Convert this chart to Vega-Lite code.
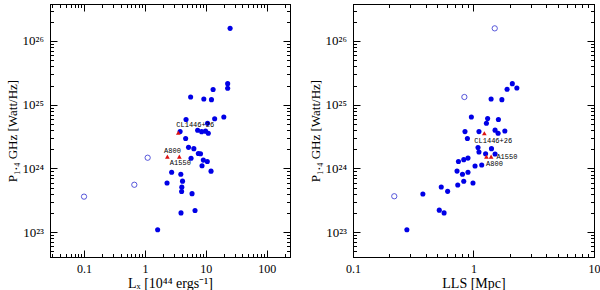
{
  "$schema": "https://vega.github.io/schema/vega-lite/v6.json",
  "padding": {"left": 5, "top": 3, "right": 0, "bottom": 0},
  "autosize": {"type": "pad"},
  "spacing": 17,
  "background": "white",
  "config": {
    "view": {"stroke": "black", "strokeWidth": 1},
    "axis": {
      "grid": false,
      "domainColor": "black",
      "tickColor": "black",
      "labelColor": "black",
      "titleColor": "black",
      "labelFont": "Liberation Serif",
      "labelFontSize": 12,
      "titleFont": "Liberation Serif",
      "titleFontSize": 14,
      "titleFontWeight": "normal",
      "labelFlush": false,
      "labelOverlap": false
    }
  },
  "datasets": {
    "lx": [
      {"x": 25.1, "p": 1.58e26, "t": "f"},
      {"x": 22.9, "p": 2.14e25, "t": "f"},
      {"x": 22.9, "p": 1.81e25, "t": "f"},
      {"x": 13.2, "p": 1.73e25, "t": "f"},
      {"x": 5.64, "p": 1.32e25, "t": "f"},
      {"x": 9.29, "p": 1.23e25, "t": "f"},
      {"x": 12.4, "p": 1.2e25, "t": "f"},
      {"x": 4.74, "p": 5.86e24, "t": "f"},
      {"x": 14.0, "p": 6.01e24, "t": "f"},
      {"x": 19.8, "p": 6.41e24, "t": "f"},
      {"x": 10.7, "p": 5.11e24, "t": "f"},
      {"x": 3.79, "p": 3.8e24, "t": "f"},
      {"x": 7.35, "p": 3.96e24, "t": "f"},
      {"x": 8.55, "p": 3.77e24, "t": "f"},
      {"x": 9.91, "p": 3.84e24, "t": "f"},
      {"x": 11.0, "p": 3.56e24, "t": "f"},
      {"x": 4.67, "p": 2.95e24, "t": "f"},
      {"x": 5.21, "p": 2.14e24, "t": "f"},
      {"x": 6.37, "p": 2.04e24, "t": "f"},
      {"x": 7.55, "p": 1.71e24, "t": "f"},
      {"x": 8.2, "p": 1.7e24, "t": "f"},
      {"x": 5.73, "p": 1.44e24, "t": "f"},
      {"x": 9.12, "p": 1.35e24, "t": "f"},
      {"x": 10.6, "p": 1.28e24, "t": "f"},
      {"x": 8.68, "p": 1.1e24, "t": "f"},
      {"x": 12.2, "p": 9.04e23, "t": "f"},
      {"x": 2.75, "p": 8.69e23, "t": "f"},
      {"x": 3.89, "p": 8.08e23, "t": "f"},
      {"x": 2.31, "p": 5.9e23, "t": "f"},
      {"x": 4.15, "p": 6.3e23, "t": "f"},
      {"x": 4.04, "p": 5.07e23, "t": "f"},
      {"x": 4.01, "p": 4.34e23, "t": "f"},
      {"x": 5.95, "p": 4.01e23, "t": "f"},
      {"x": 3.92, "p": 2.0e23, "t": "f"},
      {"x": 6.66, "p": 2.18e23, "t": "f"},
      {"x": 1.62, "p": 1.09e23, "t": "f"},
      {"x": 0.1, "p": 3.6e23, "t": "o"},
      {"x": 0.67, "p": 5.53e23, "t": "o"},
      {"x": 1.11, "p": 1.47e24, "t": "o"},
      {"x": 3.54, "p": 3.62e24, "t": "tri", "name": "CL1446+26"},
      {"x": 2.34, "p": 1.53e24, "t": "tri", "name": "A800"},
      {"x": 3.68, "p": 1.53e24, "t": "tri", "name": "A1550"}
    ],
    "lls": [
      {"x": 2.1, "p": 2.14e25, "t": "f"},
      {"x": 1.9, "p": 1.75e25, "t": "f"},
      {"x": 2.29, "p": 1.83e25, "t": "f"},
      {"x": 1.4, "p": 1.23e25, "t": "f"},
      {"x": 1.72, "p": 1.2e25, "t": "f"},
      {"x": 0.96, "p": 6.41e24, "t": "f"},
      {"x": 1.31, "p": 6.05e24, "t": "f"},
      {"x": 1.61, "p": 5.86e24, "t": "f"},
      {"x": 1.28, "p": 5.11e24, "t": "f"},
      {"x": 0.85, "p": 3.78e24, "t": "f"},
      {"x": 1.11, "p": 3.78e24, "t": "f"},
      {"x": 1.51, "p": 3.98e24, "t": "f"},
      {"x": 1.82, "p": 3.87e24, "t": "f"},
      {"x": 1.6, "p": 3.57e24, "t": "f"},
      {"x": 0.89, "p": 2.94e24, "t": "f"},
      {"x": 1.09, "p": 2.13e24, "t": "f"},
      {"x": 1.41, "p": 2.04e24, "t": "f"},
      {"x": 1.11, "p": 1.81e24, "t": "f"},
      {"x": 1.26, "p": 1.7e24, "t": "f"},
      {"x": 1.51, "p": 1.68e24, "t": "f"},
      {"x": 0.9, "p": 1.45e24, "t": "f"},
      {"x": 0.83, "p": 1.37e24, "t": "f"},
      {"x": 0.75, "p": 1.28e24, "t": "f"},
      {"x": 1.03, "p": 1.09e24, "t": "f"},
      {"x": 1.17, "p": 1.13e24, "t": "f"},
      {"x": 0.73, "p": 9.07e23, "t": "f"},
      {"x": 0.81, "p": 8.08e23, "t": "f"},
      {"x": 0.9, "p": 8.69e23, "t": "f"},
      {"x": 0.83, "p": 6.27e23, "t": "f"},
      {"x": 0.74, "p": 5.48e23, "t": "f"},
      {"x": 0.99, "p": 5.88e23, "t": "f"},
      {"x": 0.54, "p": 5.11e23, "t": "f"},
      {"x": 0.61, "p": 4.36e23, "t": "f"},
      {"x": 0.38, "p": 3.96e23, "t": "f"},
      {"x": 0.52, "p": 2.21e23, "t": "f"},
      {"x": 0.57, "p": 2.0e23, "t": "f"},
      {"x": 0.28, "p": 1.09e23, "t": "f"},
      {"x": 1.5, "p": 1.58e26, "t": "o"},
      {"x": 0.84, "p": 1.32e25, "t": "o"},
      {"x": 0.22, "p": 3.65e23, "t": "o"},
      {"x": 1.23, "p": 3.56e24, "t": "tri", "name": "CL1446+26"},
      {"x": 1.28, "p": 1.53e24, "t": "tri", "name": "A800"},
      {"x": 1.4, "p": 1.53e24, "t": "tri", "name": "A1550"}
    ]
  },
  "hconcat": [
    {
      "width": 240,
      "height": 253,
      "data": {"name": "lx"},
      "resolve": {"axis": {"x": "independent", "y": "independent"}},
      "layer": [
        {
          "transform": [{"filter": "datum.t == 'f'"}],
          "mark": {"type": "circle", "size": 26, "color": "#0000e6", "opacity": 1},
          "encoding": {
            "x": {"field": "x", "type": "quantitative", "scale": {"type": "log", "domain": [0.0276, 242], "nice": false},
              "axis": {"orient": "bottom", "values": [0.1, 1, 10, 100], "tickSize": -7, "labelPadding": 13, "labelExpr": "datum.value < 0.5 ? '0.1' : datum.value < 5 ? '1' : datum.value < 50 ? '10' : '100'", "title": "Lₓ [10⁴⁴ ergs⁻¹]", "titlePadding": 2}},
            "y": {"field": "p", "type": "quantitative", "scale": {"type": "log", "domain": [4.06e22, 3.81e26], "nice": false},
              "axis": {"orient": "left", "values": [1e23, 1e24, 1e25, 1e26], "tickSize": -7, "labelPadding": 13.5, "labelFontSize": 13, "labelExpr": "datum.value > 5e25 ? '10²⁶' : datum.value > 5e24 ? '10²⁵' : datum.value > 5e23 ? '10²⁴' : '10²³'", "title": "P₁.₄ GHz [Watt/Hz]", "titlePadding": 3, "titleFontSize": 13}}
          }
        },
        {
          "transform": [{"filter": "datum.t == 'o'"}],
          "mark": {"type": "point", "shape": "circle", "filled": false, "size": 28, "stroke": "#3030d0", "strokeWidth": 0.8, "opacity": 1},
          "encoding": {
            "x": {"field": "x", "type": "quantitative", "scale": {"type": "log", "domain": [0.0276, 242], "nice": false},
              "axis": {"orient": "bottom", "values": [0.03, 0.04, 0.05, 0.06, 0.07, 0.08, 0.09, 0.2, 0.3, 0.4, 0.5, 0.6, 0.7, 0.8, 0.9, 2, 3, 4, 5, 6, 7, 8, 9, 20, 30, 40, 50, 60, 70, 80, 90, 200], "tickSize": -3.5, "labels": false, "title": null}},
            "y": {"field": "p", "type": "quantitative", "scale": {"type": "log", "domain": [4.06e22, 3.81e26], "nice": false},
              "axis": {"orient": "left", "values": [5e22, 6e22, 7e22, 8e22, 9e22, 2e23, 3e23, 4e23, 5e23, 6e23, 7e23, 8e23, 9e23, 2e24, 3e24, 4e24, 5e24, 6e24, 7e24, 8e24, 9e24, 2e25, 3e25, 4e25, 5e25, 6e25, 7e25, 8e25, 9e25, 2e26, 3e26], "tickSize": -3.5, "labels": false, "title": null}}
          }
        },
        {
          "transform": [{"filter": "datum.t == 'tri'"}],
          "mark": {"type": "point", "shape": "triangle-up", "filled": true, "size": 22, "color": "#dd1111", "opacity": 1},
          "encoding": {
            "x": {"field": "x", "type": "quantitative", "scale": {"type": "log", "domain": [0.0276, 242], "nice": false},
              "axis": {"orient": "top", "values": [0.1, 1, 10, 100], "tickSize": -7, "labels": false, "title": null}},
            "y": {"field": "p", "type": "quantitative", "scale": {"type": "log", "domain": [4.06e22, 3.81e26], "nice": false},
              "axis": {"orient": "right", "values": [1e23, 1e24, 1e25, 1e26], "tickSize": -7, "labels": false, "title": null}}
          }
        },
        {
          "transform": [{"filter": "datum.name == 'CL1446+26'"}],
          "mark": {"type": "text", "font": "Liberation Mono", "fontSize": 7, "align": "left", "baseline": "middle", "dx": -2, "dy": -7.5, "color": "black"},
          "encoding": {
            "text": {"field": "name"},
            "x": {"field": "x", "type": "quantitative", "scale": {"type": "log", "domain": [0.0276, 242], "nice": false},
              "axis": {"orient": "top", "values": [0.03, 0.04, 0.05, 0.06, 0.07, 0.08, 0.09, 0.2, 0.3, 0.4, 0.5, 0.6, 0.7, 0.8, 0.9, 2, 3, 4, 5, 6, 7, 8, 9, 20, 30, 40, 50, 60, 70, 80, 90, 200], "tickSize": -3.5, "labels": false, "title": null}},
            "y": {"field": "p", "type": "quantitative", "scale": {"type": "log", "domain": [4.06e22, 3.81e26], "nice": false},
              "axis": {"orient": "right", "values": [5e22, 6e22, 7e22, 8e22, 9e22, 2e23, 3e23, 4e23, 5e23, 6e23, 7e23, 8e23, 9e23, 2e24, 3e24, 4e24, 5e24, 6e24, 7e24, 8e24, 9e24, 2e25, 3e25, 4e25, 5e25, 6e25, 7e25, 8e25, 9e25, 2e26, 3e26], "tickSize": -3.5, "labels": false, "title": null}}
          }
        },
        {
          "transform": [{"filter": "datum.name == 'A800'"}],
          "mark": {"type": "text", "font": "Liberation Mono", "fontSize": 7, "align": "left", "baseline": "middle", "dx": -3.3, "dy": -6, "color": "black"},
          "encoding": {
            "text": {"field": "name"},
            "x": {"field": "x", "type": "quantitative", "scale": {"type": "log", "domain": [0.0276, 242], "nice": false}, "axis": null},
            "y": {"field": "p", "type": "quantitative", "scale": {"type": "log", "domain": [4.06e22, 3.81e26], "nice": false}, "axis": null}
          }
        },
        {
          "transform": [{"filter": "datum.name == 'A1550'"}],
          "mark": {"type": "text", "font": "Liberation Mono", "fontSize": 7, "align": "center", "baseline": "middle", "dx": 1, "dy": 6.6, "color": "black"},
          "encoding": {
            "text": {"field": "name"},
            "x": {"field": "x", "type": "quantitative", "scale": {"type": "log", "domain": [0.0276, 242], "nice": false}, "axis": null},
            "y": {"field": "p", "type": "quantitative", "scale": {"type": "log", "domain": [4.06e22, 3.81e26], "nice": false}, "axis": null}
          }
        }
      ]
    },
    {
      "width": 241,
      "height": 253,
      "data": {"name": "lls"},
      "resolve": {"axis": {"x": "independent", "y": "independent"}},
      "layer": [
        {
          "transform": [{"filter": "datum.t == 'f'"}],
          "mark": {"type": "circle", "size": 26, "color": "#0000e6", "opacity": 1},
          "encoding": {
            "x": {"field": "x", "type": "quantitative", "scale": {"type": "log", "domain": [0.1, 10], "nice": false},
              "axis": {"orient": "bottom", "values": [0.1, 1, 10], "tickSize": -7, "labelPadding": 13, "labelExpr": "datum.value < 0.5 ? '0.1' : datum.value < 5 ? '1' : '10'", "title": "LLS [Mpc]", "titlePadding": 2}},
            "y": {"field": "p", "type": "quantitative", "scale": {"type": "log", "domain": [4.06e22, 3.81e26], "nice": false},
              "axis": {"orient": "left", "values": [1e23, 1e24, 1e25, 1e26], "tickSize": -7, "labelPadding": 13.5, "labelFontSize": 13, "labelExpr": "datum.value > 5e25 ? '10²⁶' : datum.value > 5e24 ? '10²⁵' : datum.value > 5e23 ? '10²⁴' : '10²³'", "title": "P₁.₄ GHz [Watt/Hz]", "titlePadding": 3, "titleFontSize": 13}}
          }
        },
        {
          "transform": [{"filter": "datum.t == 'o'"}],
          "mark": {"type": "point", "shape": "circle", "filled": false, "size": 28, "stroke": "#3030d0", "strokeWidth": 0.8, "opacity": 1},
          "encoding": {
            "x": {"field": "x", "type": "quantitative", "scale": {"type": "log", "domain": [0.1, 10], "nice": false},
              "axis": {"orient": "bottom", "values": [0.2, 0.3, 0.4, 0.5, 0.6, 0.7, 0.8, 0.9, 2, 3, 4, 5, 6, 7, 8, 9], "tickSize": -3.5, "labels": false, "title": null}},
            "y": {"field": "p", "type": "quantitative", "scale": {"type": "log", "domain": [4.06e22, 3.81e26], "nice": false},
              "axis": {"orient": "left", "values": [5e22, 6e22, 7e22, 8e22, 9e22, 2e23, 3e23, 4e23, 5e23, 6e23, 7e23, 8e23, 9e23, 2e24, 3e24, 4e24, 5e24, 6e24, 7e24, 8e24, 9e24, 2e25, 3e25, 4e25, 5e25, 6e25, 7e25, 8e25, 9e25, 2e26, 3e26], "tickSize": -3.5, "labels": false, "title": null}}
          }
        },
        {
          "transform": [{"filter": "datum.t == 'tri'"}],
          "mark": {"type": "point", "shape": "triangle-up", "filled": true, "size": 22, "color": "#dd1111", "opacity": 1},
          "encoding": {
            "x": {"field": "x", "type": "quantitative", "scale": {"type": "log", "domain": [0.1, 10], "nice": false},
              "axis": {"orient": "top", "values": [0.1, 1, 10], "tickSize": -7, "labels": false, "title": null}},
            "y": {"field": "p", "type": "quantitative", "scale": {"type": "log", "domain": [4.06e22, 3.81e26], "nice": false},
              "axis": {"orient": "right", "values": [1e23, 1e24, 1e25, 1e26], "tickSize": -7, "labels": false, "title": null}}
          }
        },
        {
          "transform": [{"filter": "datum.name == 'CL1446+26'"}],
          "mark": {"type": "text", "font": "Liberation Mono", "fontSize": 7, "align": "left", "baseline": "middle", "dx": -10, "dy": 7.7, "color": "black"},
          "encoding": {
            "text": {"field": "name"},
            "x": {"field": "x", "type": "quantitative", "scale": {"type": "log", "domain": [0.1, 10], "nice": false},
              "axis": {"orient": "top", "values": [0.2, 0.3, 0.4, 0.5, 0.6, 0.7, 0.8, 0.9, 2, 3, 4, 5, 6, 7, 8, 9], "tickSize": -3.5, "labels": false, "title": null}},
            "y": {"field": "p", "type": "quantitative", "scale": {"type": "log", "domain": [4.06e22, 3.81e26], "nice": false},
              "axis": {"orient": "right", "values": [5e22, 6e22, 7e22, 8e22, 9e22, 2e23, 3e23, 4e23, 5e23, 6e23, 7e23, 8e23, 9e23, 2e24, 3e24, 4e24, 5e24, 6e24, 7e24, 8e24, 9e24, 2e25, 3e25, 4e25, 5e25, 6e25, 7e25, 8e25, 9e25, 2e26, 3e26], "tickSize": -3.5, "labels": false, "title": null}}
          }
        },
        {
          "transform": [{"filter": "datum.name == 'A800'"}],
          "mark": {"type": "text", "font": "Liberation Mono", "fontSize": 7, "align": "left", "baseline": "middle", "dx": -0.3, "dy": 7, "color": "black"},
          "encoding": {
            "text": {"field": "name"},
            "x": {"field": "x", "type": "quantitative", "scale": {"type": "log", "domain": [0.1, 10], "nice": false}, "axis": null},
            "y": {"field": "p", "type": "quantitative", "scale": {"type": "log", "domain": [4.06e22, 3.81e26], "nice": false}, "axis": null}
          }
        },
        {
          "transform": [{"filter": "datum.name == 'A1550'"}],
          "mark": {"type": "text", "font": "Liberation Mono", "fontSize": 7, "align": "left", "baseline": "middle", "dx": 5.3, "dy": 0, "color": "black"},
          "encoding": {
            "text": {"field": "name"},
            "x": {"field": "x", "type": "quantitative", "scale": {"type": "log", "domain": [0.1, 10], "nice": false}, "axis": null},
            "y": {"field": "p", "type": "quantitative", "scale": {"type": "log", "domain": [4.06e22, 3.81e26], "nice": false}, "axis": null}
          }
        }
      ]
    }
  ]
}
